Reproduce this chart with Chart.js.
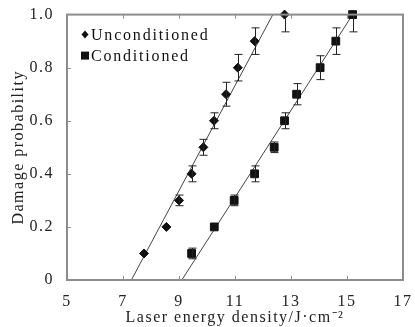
<!DOCTYPE html>
<html>
<head>
<meta charset="utf-8">
<script src="https://cdn.jsdelivr.net/npm/chart.js@4"></script>
<style>
  html, body { margin: 0; padding: 0; background: #fff; }
  #wrap { width: 415px; height: 327px; }
</style>
</head>
<body>
<div id="wrap"><canvas id="myChart" width="415" height="327"></canvas></div>
<script>
// data
const uncondX = [7.75, 8.55, 9.0, 9.45, 9.87, 10.25, 10.68, 11.1, 11.7, 12.77];
const uncondY = [0.1, 0.2, 0.3, 0.4, 0.5, 0.6, 0.7, 0.8, 0.9, 1.0];
const uncondErr = [0, 0, 0.02, 0.03, 0.03, 0.03, 0.045, 0.05, 0.05, 0.065];

const condX = [9.45, 10.26, 10.97, 11.7, 12.4, 12.77, 13.2, 14.04, 14.6, 15.2];
const condY = [0.1, 0.2, 0.3, 0.4, 0.5, 0.6, 0.7, 0.8, 0.9, 1.0];
const condErr = [0.02, 0, 0.02, 0.03, 0.02, 0.03, 0.04, 0.045, 0.05, 0.065];

// linear fits (end points)
const uncondFitX = [7.3, 12.35];
const condFitX = [9.1, 15.2];
const fitY = [0, 1];

const xTicks = [5, 7, 9, 11, 13, 15, 17];
const yTicks = [0, 0.2, 0.4, 0.6, 0.8, 1.0];

const serif = 'Liberation Serif';
const frameColor = '#8c8c8c';

function pts(xs, ys) {
    return xs.map(function (x, i) { return { x: x, y: ys[i] }; });
}

// error bars, frame, inward ticks and legend
const extras = {
    id: 'extras',
    beforeDraw(chart) {
        chart.ctx.letterSpacing = '1.5px';
    },
    afterDatasetsDraw(chart) {
        const ctx = chart.ctx;
        const xs = chart.scales.x, ys = chart.scales.y;
        const a = chart.chartArea;
        ctx.save();
        ctx.beginPath();
        ctx.rect(a.left, a.top, a.right - a.left, a.bottom - a.top);
        ctx.clip();
        ctx.strokeStyle = '#222';
        ctx.lineWidth = 1;
        chart.data.datasets.forEach(function (ds) {
            if (!ds.errs) return;
            ds.data.forEach(function (p, i) {
                const e = ds.errs[i];
                if (!e) return;
                const px = Math.round(xs.getPixelForValue(p.x)) + 0.5;
                const y1 = ys.getPixelForValue(p.y - e);
                const y2 = ys.getPixelForValue(p.y + e);
                ctx.beginPath();
                ctx.moveTo(px, y1); ctx.lineTo(px, y2);
                ctx.moveTo(px - 4, y1); ctx.lineTo(px + 4, y1);
                ctx.moveTo(px - 4, y2); ctx.lineTo(px + 4, y2);
                ctx.stroke();
            });
        });
        ctx.restore();

        // frame
        ctx.save();
        ctx.strokeStyle = frameColor;
        ctx.lineWidth = 2;
        ctx.strokeRect(a.left, a.top, a.right - a.left, a.bottom - a.top);
        ctx.lineWidth = 1;
        ctx.beginPath();
        xTicks.slice(1, -1).forEach(function (v) {
            const px = Math.round(xs.getPixelForValue(v)) + 0.5;
            ctx.moveTo(px, a.bottom); ctx.lineTo(px, a.bottom - 4);
            ctx.moveTo(px, a.top); ctx.lineTo(px, a.top + 4);
        });
        yTicks.slice(1, -1).forEach(function (v) {
            const py = Math.round(ys.getPixelForValue(v)) + 0.5;
            ctx.moveTo(a.left, py); ctx.lineTo(a.left + 4, py);
        });
        ctx.stroke();
        ctx.restore();

        // legend
        ctx.save();
        ctx.fillStyle = '#111';
        ctx.font = '16px "' + serif + '"';
        ctx.letterSpacing = '1.8px';
        ctx.textBaseline = 'middle';
        const lx = a.left + 18;
        const ly1 = a.top + 20, ly2 = a.top + 41;
        ctx.beginPath();
        ctx.moveTo(lx, ly1 - 4); ctx.lineTo(lx + 3.5, ly1);
        ctx.lineTo(lx, ly1 + 4); ctx.lineTo(lx - 3.5, ly1);
        ctx.closePath();
        ctx.fill();
        ctx.fillRect(lx - 4, ly2 - 4, 8, 8);
        ctx.fillText('Unconditioned', lx + 6, ly1 + 1);
        ctx.fillText('Conditioned', lx + 6, ly2 + 1);
        ctx.restore();
    }
};

const data = {
    datasets: [{
        label: 'Unconditioned',
        type: 'scatter',
        data: pts(uncondX, uncondY),
        errs: uncondErr,
        pointStyle: 'rectRot',
        pointRadius: 4.5,
        backgroundColor: '#111',
        borderColor: '#111',
        clip: false
    }, {
        label: 'Conditioned',
        type: 'scatter',
        data: pts(condX, condY),
        errs: condErr,
        pointStyle: 'rect',
        pointRadius: 5.5,
        backgroundColor: '#111',
        borderColor: '#111',
        clip: false
    }, {
        label: 'fit1',
        type: 'line',
        data: pts(uncondFitX, fitY),
        borderColor: '#444',
        borderWidth: 1,
        pointRadius: 0
    }, {
        label: 'fit2',
        type: 'line',
        data: pts(condFitX, fitY),
        borderColor: '#444',
        borderWidth: 1,
        pointRadius: 0
    }]
};

const config = {
    type: 'scatter',
    data,
    options: {
        responsive: false,
        animation: false,
        events: [],
        layout: { padding: { left: 0, top: 13, right: 8, bottom: 0 } },
        plugins: {
            legend: { display: false },
            tooltip: { enabled: false }
        },
        scales: {
            x: {
                type: 'linear',
                min: 5,
                max: 17,
                afterBuildTicks: function (scale) {
                    scale.ticks = xTicks.map(function (v) { return { value: v }; });
                },
                afterFit: function (scale) { scale.height = 47; },
                grid: { display: false },
                border: { display: false },
                ticks: {
                    color: '#222',
                    font: { family: serif, size: 16 },
                    padding: 4,
                    maxRotation: 0,
                    autoSkip: false
                },
                title: {
                    display: true,
                    text: 'Laser energy density/J·cm⁻²',
                    color: '#222',
                    font: { family: serif, size: 16 },
                    padding: { top: 0, bottom: 0 }
                }
            },
            y: {
                min: 0,
                max: 1,
                afterBuildTicks: function (scale) {
                    scale.ticks = yTicks.map(function (v) { return { value: v }; });
                },
                afterFit: function (scale) { scale.width = 67; },
                grid: { display: false },
                border: { display: false },
                ticks: {
                    color: '#222',
                    font: { family: serif, size: 16 },
                    padding: 5,
                    autoSkip: false,
                    callback: function (v) { return v === 0 ? '0' : v.toFixed(1); }
                },
                title: {
                    display: true,
                    text: 'Damage probability',
                    color: '#222',
                    font: { family: serif, size: 16 },
                    padding: { top: 9, bottom: 0 }
                }
            }
        }
    },
    plugins: [extras]
};

const myChart = new Chart(
    document.getElementById('myChart').getContext('2d'),
    config
);
</script>
</body>
</html>
